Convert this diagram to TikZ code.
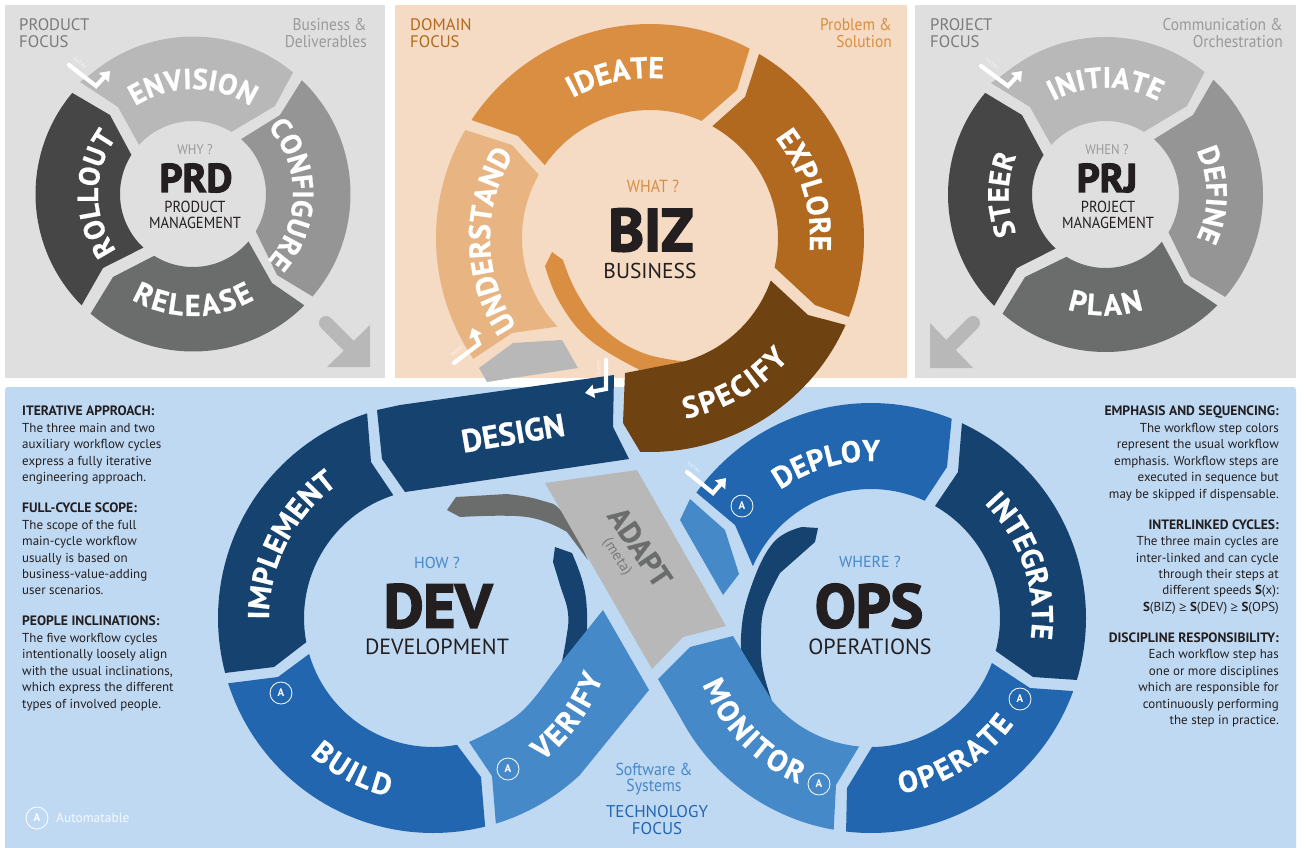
\documentclass[tikz,border=0pt]{standalone}
\usepackage{fontspec}
\usetikzlibrary{decorations.text,arrows.meta}
\setmainfont{PT Sans}
\newfontfamily\lblf[FakeBold=.7]{PT Sans Bold}
\newfontfamily\bigf[FakeBold=3]{PT Sans Bold}
\newfontfamily\lowf[FakeStretch=.91]{PT Sans}
\newfontfamily\geqf{Open Sans}
\definecolor{ink}{HTML}{231F20}
\definecolor{panelgray}{HTML}{DFDFDF}
\definecolor{panelbiz}{HTML}{F5DBC3}
\definecolor{panelblue}{HTML}{BFD9F3}
\definecolor{g1}{HTML}{B8B8B8}
\definecolor{g2}{HTML}{959595}
\definecolor{g3}{HTML}{6B6C6C}
\definecolor{g4}{HTML}{464646}
\definecolor{gtxt}{HTML}{9A9A9A}
\definecolor{gdark}{HTML}{7B7B7B}
\definecolor{o0}{HTML}{E8B482}
\definecolor{o1}{HTML}{DA8E42}
\definecolor{o2}{HTML}{B0691F}
\definecolor{o3}{HTML}{6F4212}
\definecolor{b1}{HTML}{4689C9}
\definecolor{b2}{HTML}{2266AF}
\definecolor{b3}{HTML}{15426F}
\newcommand\fs[1]{\fontsize{#1}{#1}\selectfont}
\newcommand\tit[1]{{\fontsize{13.6}{16.45}\selectfont\bfseries #1}}
\newcommand\setring[4]{\def\cx{#1}\def\cy{#2}\def\ro{#3}\def\ri{#4}}
\def\parseO#1,#2,#3,#4;{%
  \pgfmathsetmacro\aA{atan2(#2-\cy,#1-\cx)}%
  \pgfmathsetmacro\aB{atan2(#4-\cy,#3-\cx)}%
  \pgfmathsetmacro\aB{\aB<\aA ? \aB+360 : \aB}}
\def\parseI#1,#2,#3,#4;{%
  \pgfmathsetmacro\aC{atan2(#2-\cy,#1-\cx)}%
  \pgfmathsetmacro\aD{atan2(#4-\cy,#3-\cx)}%
  \pgfmathsetmacro\aD{\aD>\aC ? \aD-360 : \aD}}
% colour, outer arc ends, points, inner arc ends, points
\newcommand\seg[5]{\parseO#2;\parseI#4;%
  \fill[#1] plot[domain=\aA:\aB,samples=50] ({\cx+\ro*cos(\x)},{\cy+\ro*sin(\x)}) #3
   -- plot[domain=\aC:\aD,samples=40] ({\cx+\ri*cos(\x)},{\cy+\ri*sin(\x)}) #5 -- cycle;}
% text, size, baseline radius, angle from, angle to
\newcommand\ringlabel[5]{\def\lblsize{#2}%
  \path[decorate,decoration={text along path,text align=center,
     text={|\lblfmt|#1}}]
     plot[domain=#4:#5,samples=80] ({\cx+#3*cos(\x)},{\cy+#3*sin(\x)});}
\def\lblfmt{\lblf\fs{\lblsize}\color{white}}
\def\kk{\kern2.4pt}
\newcommand\entry[5]{\draw[entryline] (#1) -- (#2) -- (#3);
  \node[entrytext,rotate=#5] at (#4) {ENTRY};}
\newcommand\autobadge[2]{\node[badge] at (#1,#2) {A};}
\tikzset{
  entryline/.style={white,line width=4.2pt,line join=miter,line cap=round,-{Triangle[width=13pt,length=9pt]}},
  entrytext/.style={text=white,opacity=.75,font=\fs{5},inner sep=0},
  badge/.style={circle,draw=white,line width=.8pt,minimum size=22pt,inner sep=0,text=white,font=\bfseries\fs{11}},
  txt/.style={inner sep=0,text=ink},
  col/.style={inner sep=0,text=ink,font=\fontsize{13}{16.45}\selectfont},
}
\begin{document}
\begin{tikzpicture}[x=1pt,y=-1pt]
\useasboundingbox (0,0) rectangle (1306,847);
\fill[white] (0,0) rectangle (1306,847);
% panels
\fill[panelgray] (5,5) rectangle (385,378);
\fill[panelbiz] (395,5) rectangle (907,378);
\fill[panelgray] (915,5) rectangle (1296,378);
\fill[panelblue,rounded corners=3pt] (5,387) rectangle (1296,860);

% ===== PRD
\setring{193}{194}{157.5}{73}
\seg{g1}{90,70,295,70}{-- (275,106)}{232,131,138,144}{-- (118,107) -- (80,82)}
\seg{g2}{303,79,312,296}{-- (277,275)}{257,232,243,137}{-- (280,115)}
\seg{g3}{303,304,92,312}{-- (113,277)}{154,256,248,241}{-- (272,283)}
\seg{g4}{83,304,70,91}{-- (110,115)}{130,154,144,247}{-- (103,268)}
\ringlabel{ENVISION}{29}{105}{-170}{-10}
\ringlabel{CONFIGURE}{29}{100}{-80}{80}
\ringlabel{{R\kk}{E\kk}{L\kk}{E\kk}{A\kk}{S\kk}{E}}{30}{122}{170}{10}
\ringlabel{ROLLOUT}{29}{95}{100}{260}
\node[txt,text=gdark,font=\fs{16.7},anchor=base west] (prdfocus) at (19,30) {PRODUCT};
\node[txt,text=gdark,font=\fs{16.7},anchor=base west] (prdfocusb) at (19,47) {FOCUS};
\node[txt,text=gtxt,font=\lowf\fs{17},anchor=base east] (prdbiz) at (367,30) {Business \&};
\node[txt,text=gtxt,font=\lowf\fs{17},anchor=base east] (prdbizb) at (367,47) {Deliverables};
\node[txt,text=gtxt,font=\lowf\fs{14}] (prdq) at (195,150) {WHY ?};
\node[txt,font=\bigf\fs{40}] (prd) at (196,178) {PRD};
\node[txt,font=\lowf\fs{16}] (prda) at (195,207) {PRODUCT};
\node[txt,font=\lowf\fs{16}] (prdb) at (195,223) {MANAGEMENT};
\entry{69,65}{96,86}{110,71}{80,63}{-38}
\draw[g1,line width=14pt,line cap=round] (326,323) -- (356,353);
\fill[g1] (370,325) -- (370,367) -- (327,367) -- cycle;

% ===== PRJ
\setring{1105.5}{194.5}{157.5}{73.5}
\seg{g1}{1003,68,1207,69}{-- (1187,106)}{1145,130,1049,143}{-- (1030,107) -- (991,83)}
\seg{g2}{1215,78,1223,295}{-- (1190,276)}{1168,232,1156,137}{-- (1193,115)}
\seg{g3}{1215,303,1004,312}{-- (1025,277)}{1067,256,1161,241}{-- (1184,283)}
\seg{g4}{996,304,983,91}{-- (1022,115)}{1042,154,1057,247}{-- (1017,268)}
\ringlabel{INITIATE}{29}{107}{-170}{-10}
\ringlabel{DEFINE}{29}{101}{-80}{80}
\ringlabel{{P\kk}{L\kk}{A\kk}{N}}{30}{121}{170}{10}
\ringlabel{STEER}{29}{97}{100}{260}
\node[txt,text=gdark,font=\fs{16.7},anchor=base west] (prjfocus) at (930,30) {PROJECT};
\node[txt,text=gdark,font=\fs{16.7},anchor=base west] (prjfocusb) at (930,47) {FOCUS};
\node[txt,text=gtxt,font=\lowf\fs{17},anchor=base east] (prjcom) at (1283,30) {Communication \&};
\node[txt,text=gtxt,font=\lowf\fs{17},anchor=base east] (prjcomb) at (1283,47) {Orchestration};
\node[txt,text=gtxt,font=\lowf\fs{14}] (prjq) at (1107,150) {WHEN ?};
\node[txt,font=\bigf\fs{40}] (prj) at (1107,178) {PRJ};
\node[txt,font=\lowf\fs{16}] (prja) at (1108,207) {PROJECT};
\node[txt,font=\lowf\fs{16}] (prjb) at (1108,223) {MANAGEMENT};
\entry{981,66}{1008,86}{1022,71}{992,64}{-38}
\draw[g1,line width=14pt,line cap=round] (973,323) -- (945,351);
\fill[g1] (930,323) -- (930,368) -- (973,368) -- cycle;

% ===== BIZ
\fill[g1] (479,368) -- (513,343) -- (562,340) -- (578,368) -- (487,382) -- cycle;
\fill[o1] (552,252) -- plot[smooth,tension=.7] coordinates {(563,260) (577,293) (603,328) (643,353) (690,362)}
  -- plot[smooth,tension=.7] coordinates {(640,370) (590,340) (560,303) (545,266)} -- cycle;
\setring{650}{238}{214}{128}
\seg{o1}{473,121,750,48}{-- (737,90)}{702,120,546,166}{-- (518,136)}
\seg{o2}{759,54,844,315}{-- (815,305)}{777,268,713,125}{-- (745,97)}
\seg{o3}{848,326,640,455}{-- (623,423) -- (625,373)}{683,365,775,282}{-- (808,315)}
\seg{o0}{473,359,467,131}{-- (512,145)}{539,175,555,329}{-- (512,333)}
\ringlabel{IDEATE}{30}{160}{-190}{-14}
\ringlabel{EXPLORE}{30}{160}{-105}{71}
\ringlabel{{S\kk}{P\kk}{E\kk}{C\kk}{I\kk}{F\kk}{Y}}{30}{184}{148}{-28}
\ringlabel{UNDERSTAND}{30}{160}{90}{268}
\node[txt,text=o2,font=\fs{16.7},anchor=base west] (bizfocus) at (410,30) {DOMAIN};
\node[txt,text=o2,font=\fs{16.7},anchor=base west] (bizfocusb) at (410,47) {FOCUS};
\node[txt,text=o1,font=\lowf\fs{17},anchor=base east] (bizprob) at (892,30) {Problem \&};
\node[txt,text=o1,font=\lowf\fs{17},anchor=base east] (bizprobb) at (892,47) {Solution};
\node[txt,text=o1,font=\lowf\fs{17.5}] (bizq) at (653,186) {WHAT ?};
\node[txt,font=\bigf\fs{60}] (biz) at (651,230) {BIZ};
\node[txt,font=\fs{21.5}] (bizb) at (650,271) {BUSINESS};
\entry{454,363}{479,344}{472,328}{457,351}{40}

% ===== DEV
\fill[g3] (447,510) -- (456,497) -- plot[smooth,tension=.7] coordinates {(507,494) (540,500) (563,513) (588,560)}
  -- plot[smooth,tension=.7] coordinates {(567,532) (527,517) (460,517)} -- cycle;
\fill[g1] (545,483) -- (637,470) -- (726,626) -- (683,637) -- (652,669) -- cycle;
\fill[b3] (555,547) -- plot[smooth,tension=.7] coordinates {(572,553) (583,583) (587,613) (586,650)}
  -- plot[smooth,tension=.7] coordinates {(560,670) (566,640) (568,613) (560,585) (553,562)} -- cycle;
\setring{433}{618}{215}{129}
\fill[b3] (377,410) -- (400,405) -- (614,375) -- (613,427) -- (629,459) -- (405,492) -- (382,459) -- cycle;
\seg{b3}{225,673,367,413}{-- (371,462)}{393,494,307,642}{-- (274,667)}
\seg{b2}{485,826,229,683}{-- (278,677)}{309,654,457,745}{-- (481,777)}
\fill[b1] (649,690) -- plot[domain=47:73,samples=20] ({433+215*cos(\x)},{618+215*sin(\x)})
  -- (492,776) -- plot[smooth,tension=.6] coordinates {(469,742) (520,713) (563,660) (603,610)} -- cycle;
\ringlabel{IMPLEMENT}{30}{164}{120}{294}
\ringlabel{{B\kk}{U\kk}{I\kk}{L\kk}{D}}{30}{184}{180}{56}
\ringlabel{{V\kk}{E\kk}{R\kk}{I\kk}{F\kk}{Y}}{30}{180}{96}{-24}
\node[txt,text=white,font=\lblf\fs{32},rotate=9.5] (design) at (513,433) {DESIGN};
\node[txt,text=b1,font=\fs{16}] (devq) at (437,563) {HOW ?};
\node[txt,font=\bigf\fs{61}] (dev) at (438,606) {DEV};
\node[txt,font=\fs{22}] (devb) at (437,647) {DEVELOPMENT};
\entry{606,360}{606,389}{585,393}{599,367}{90}
\autobadge{281}{693}
\autobadge{508}{769}

% ===== ADAPT
\node[txt,text=g3,font=\lblf\fs{30},rotate=-56] (adapt) at (640,547) {ADAPT};
\node[txt,text=g3!80!g1,font=\fs{15},rotate=-57] (meta) at (617,557) {(meta)};

% ===== OPS
\fill[b1] (690,499) -- (725,530) -- (739,574) -- (723,595) -- (680,520) -- cycle;
\fill[b3] (802,527) -- (818,528) -- (815,542) -- plot[smooth,tension=.7] coordinates {(780,573) (765,605) (761,635) (763,670) (775,710)}
  -- plot[smooth,tension=.7] coordinates {(745,680) (741,637) (750,590) (773,543) (802,527)} -- cycle;
\setring{871}{618}{215}{129}
\fill[b1] (733,636) -- (690,647) -- (658,679) -- plot[domain=152:100,samples=30] ({871+215*cos(\x)},{618+215*sin(\x)})
  -- (836,785) -- plot[domain=95.3:140,samples=30] ({871+129*cos(\x)},{618+129*sin(\x)}) -- cycle;
\seg{b2}{697,493,952,418}{-- (947,467)}{925,500,748,564}{-- (735,525)}
\seg{b3}{962,423,1077,680}{-- (1033,677)}{996,651,935,506}{-- (958,472)}
\seg{b2}{1073,691,846,832}{-- (847,788)}{872,747,992,663}{-- (1030,688)}
\ringlabel{DEPLOY}{30}{157}{-196}{-16}
\ringlabel{INTEGRATE}{30}{161}{-105}{67}
\ringlabel{{O\kk}{P\kk}{E\kk}{R\kk}{A\kk}{T\kk}{E}}{30}{178}{148}{-31}
\ringlabel{{M\kk}{O\kk}{N\kk}{I\kk}{T\kk}{O\kk}{R}}{30}{181}{226}{46}
\node[txt,text=b1,font=\fs{16}] (opsq) at (870,562) {WHERE ?};
\node[txt,font=\bigf\fs{61}] (ops) at (869,606) {OPS};
\node[txt,font=\fs{22}] (opsb) at (870,647) {OPERATIONS};
\entry{687,472}{713,493}{726,478}{694,468}{-38}
\autobadge{742}{506}
\autobadge{819}{784}
\autobadge{1020}{699}

% ===== tech focus
\node[txt,text=b1,font=\lowf\fs{17.4}] (sw) at (654,769) {Software \&};
\node[txt,text=b1,font=\lowf\fs{17.4}] (swb) at (654,787) {Systems};
\node[txt,text=b2,font=\fs{17}] (tech) at (657,812) {TECHNOLOGY};
\node[txt,text=b2,font=\fs{17}] (techb) at (657,829) {FOCUS};
\autobadge{37}{818}
\node[txt,text=white,opacity=.85,font=\fs{13.4},anchor=west] (autom) at (56,818) {Automatable};

% ===== columns
\node[col,align=left,anchor=north west] (left) at (22,406) {%
\tit{ITERATIVE APPROACH:}\\
The three main and two\\
auxiliary workflow cycles\\
express a fully iterative\\
engineering approach.\\[14.5pt]
\tit{FULL-CYCLE SCOPE:}\\
The scope of the full\\
main-cycle workflow\\
usually is based on\\
business-value-adding\\
user scenarios.\\[14.5pt]
\tit{PEOPLE INCLINATIONS:}\\
The five workflow cycles\\
intentionally loosely align\\
with the usual inclinations,\\
which express the different\\
types of involved people.};
\node[col,align=right,anchor=north east] (right) at (1279,406) {%
\tit{EMPHASIS AND SEQUENCING:}\\
The workflow step colors\\
represent the usual workflow\\
emphasis. Workflow steps are\\
executed in sequence but\\
may be skipped if dispensable.\\[14.5pt]
\tit{INTERLINKED CYCLES:}\\
The three main cycles are\\
inter-linked and can cycle\\
through their steps at\\
different speeds \textbf{S}(x):\\
\textbf{S}(BIZ) {\geqf ≥} \textbf{S}(DEV) {\geqf ≥} \textbf{S}(OPS)\\[14.5pt]
\tit{DISCIPLINE RESPONSIBILITY:}\\
Each workflow step has\\
one or more disciplines\\
which are responsible for\\
continuously performing\\
the step in practice.};
\end{tikzpicture}
\end{document}
